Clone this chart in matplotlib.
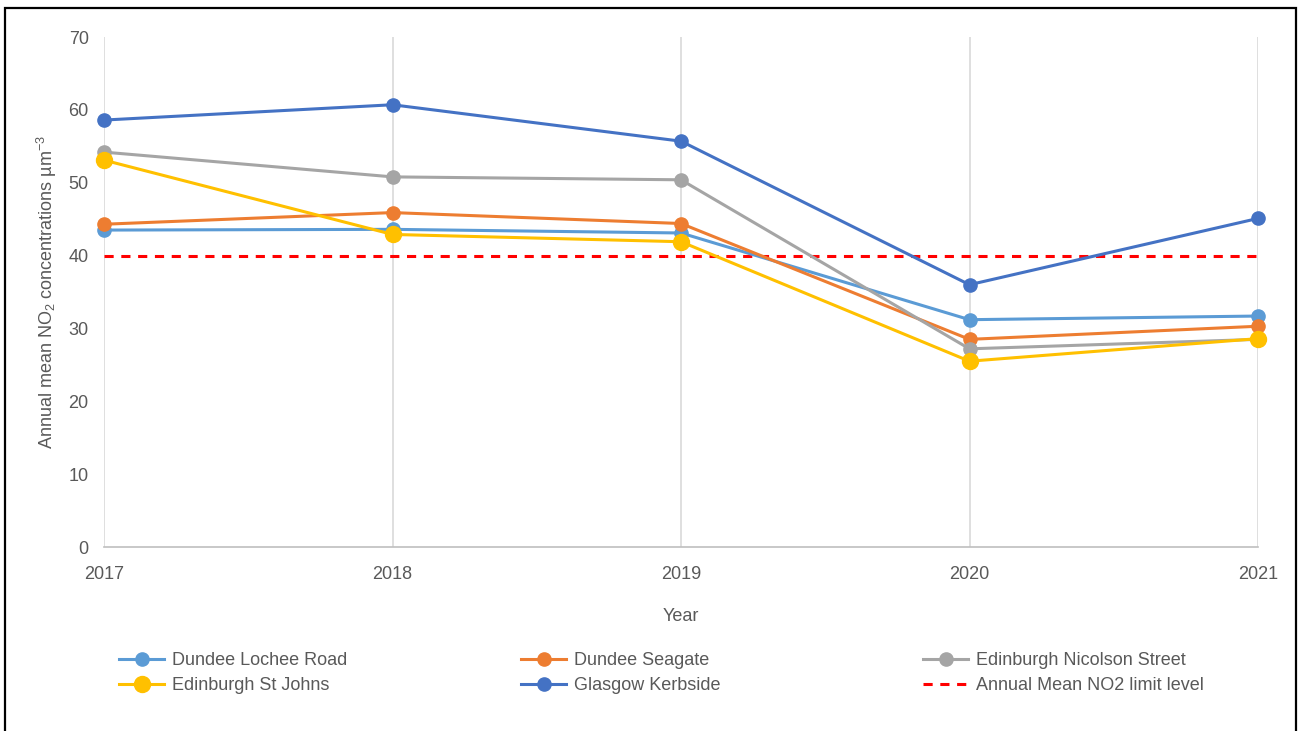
import matplotlib as mpl
mpl.rcParams['font.family'] = ['Liberation Sans', 'DejaVu Sans']
mpl.rcParams['mathtext.default'] = 'regular'
import matplotlib.pyplot as plt
from matplotlib.lines import Line2D
from matplotlib.patches import Rectangle

# data
years = [2017, 2018, 2019, 2020, 2021]
lochee    = [43.5, 43.6, 43.1, 31.2, 31.7]
seagate   = [44.3, 45.9, 44.4, 28.5, 30.3]
nicolson  = [54.2, 50.8, 50.4, 27.2, 28.5]
stjohns   = [53.1, 42.9, 41.9, 25.5, 28.6]
glasgow   = [58.6, 60.7, 55.7, 36.0, 45.1]
limit     = 40

names  = ['Dundee Lochee Road', 'Dundee Seagate', 'Edinburgh Nicolson Street',
          'Edinburgh St Johns', 'Glasgow Kerbside']
series = [lochee, seagate, nicolson, stjohns, glasgow]
cols   = ['#5B9BD5', '#ED7D31', '#A5A5A5', '#FFC000', '#4472C4']
msize  = [9.5, 9.5, 9.5, 11.5, 9.5]

fs = 13
txtcol = '#595959'

fig = plt.figure(figsize=(12.98, 7.31), dpi=100, facecolor='w')
ax = fig.add_axes([104/1298., 1-547/731., (1258-104)/1298., (547-37)/731.])

handles = []
for name, vals, c, ms in zip(names, series, cols, msize):
    ln, = ax.plot(years, vals, color=c, lw=2.2, marker='o', ms=ms,
                  label=name, zorder=3, clip_on=False)
    handles.append(ln)
lim = ax.axhline(limit, color='#FF0000', lw=2.2, ls=(0, (3, 2.5)), zorder=2,
                 label='Annual Mean NO2 limit level')
handles.append(lim)

ax.set_xlim(2017, 2021)
ax.set_ylim(0, 70)
ax.set_xticks(years)
ax.set_yticks(range(0, 71, 10))
ax.tick_params(length=0, labelsize=fs, labelcolor=txtcol)
ax.tick_params(axis='x', pad=14)
ax.tick_params(axis='y', pad=11)
ax.grid(axis='x', color='#D9D9D9', lw=1.2)
ax.set_axisbelow(True)
for s in ['top', 'right', 'left']:
    ax.spines[s].set_visible(False)
ax.spines['bottom'].set_color('#BFBFBF')
ax.spines['bottom'].set_linewidth(1.2)

ax.set_xlabel('Year', fontsize=fs, color=txtcol, labelpad=18)
ax.set_ylabel('Annual mean NO$_2$ concentrations µm$^{-3}$', fontsize=fs,
              color=txtcol, labelpad=7)

# legend : 3 columns of 2 rows
lx = [112/1298., 514/1298., 916/1298.]
for i, x in enumerate(lx):
    hh = [handles[i], handles[i + 3]]
    fig.legend(handles=hh, loc='upper left', bbox_to_anchor=(x, 1-645/731.),
               frameon=False, fontsize=fs, handlelength=2.5,
               handletextpad=0.45, labelspacing=0.45, borderaxespad=0.,
               labelcolor=txtcol)

# outer frame
fig.patches.append(Rectangle((5/1298., -0.05), 1291/1298., 1.05 - 8/731.,
                             transform=fig.transFigure, fill=False,
                             edgecolor='black', lw=1.6))

plt.savefig('out.png')
